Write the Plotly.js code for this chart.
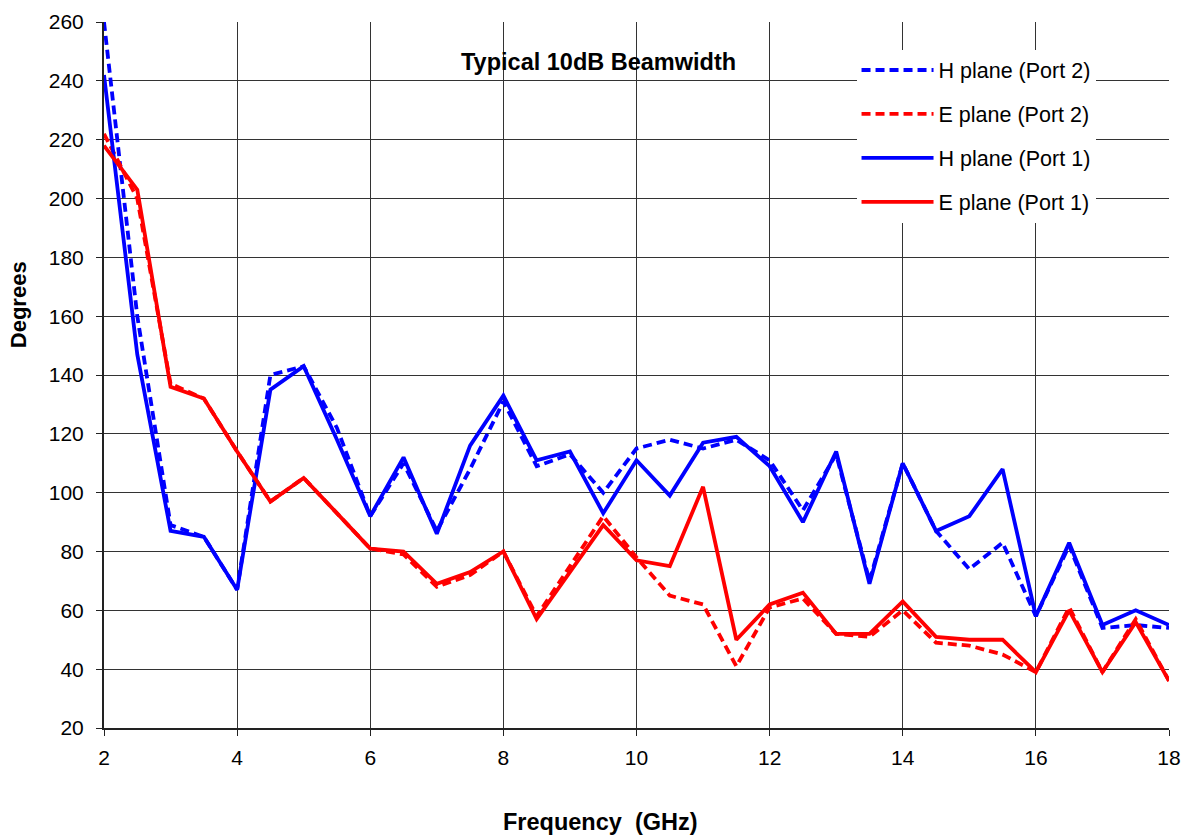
<!DOCTYPE html>
<html>
<head>
<meta charset="utf-8">
<script src="https://cdn.plot.ly/plotly-3.0.1.min.js"></script>
<style>
  html, body { margin: 0; padding: 0; background: #ffffff; }
  #chart { width: 1186px; height: 837px; }
</style>
</head>
<body>
<div id="chart"></div>
<script>
// Frequency points (GHz)
const freqGHz = [2, 2.5, 3, 3.5, 4, 4.5, 5, 5.5, 6, 6.5, 7, 7.5, 8, 8.5, 9, 9.5,
                 10, 10.5, 11, 11.5, 12, 12.5, 13, 13.5, 14, 14.5, 15, 15.5, 16, 16.5, 17, 17.5, 18];

// 10 dB beamwidth (degrees)
const hPlanePort2 = [260, 160, 89, 85, 67, 140, 143, 122, 92, 110, 87, 108, 131, 109, 113, 100,
                     115, 118, 115, 118, 111, 94, 113, 70, 110, 87, 74, 83, 58, 82, 54, 55, 54];
const ePlanePort2 = [222, 200, 137, 132, 114, 97, 105, 93, 81, 79, 68, 72, 80, 58, 75, 92,
                     78, 65, 62, 41, 61, 64, 52, 51, 60, 49, 48, 45, 39, 61, 39, 57, 36];
const hPlanePort1 = [242, 147, 87, 85, 67, 135, 143, 118, 92, 112, 86, 116, 133, 111, 114, 93,
                     111, 99, 117, 119, 109, 90, 114, 69, 110, 87, 92, 108, 58, 83, 55, 60, 55];
const ePlanePort1 = [218, 203, 136, 132, 114, 97, 105, 93, 81, 80, 69, 73, 80, 57, 73, 89,
                     77, 75, 102, 50, 62, 66, 52, 52, 63, 51, 50, 50, 39, 60, 39, 56, 36];

const seriesNames = ['H plane (Port 2)', 'E plane (Port 2)', 'H plane (Port 1)', 'E plane (Port 1)'];

const xTicks = [2, 4, 6, 8, 10, 12, 14, 16, 18];
const yTicks = [20, 40, 60, 80, 100, 120, 140, 160, 180, 200, 220, 240, 260];

const BLUE = '#0000ff';
const RED = '#ff0000';
const FONT = 'Liberation Sans, Arial, sans-serif';

function lineTrace(y, name, color, dashed, group) {
  return {
    x: freqGHz,
    y: y,
    name: name,
    type: 'scatter',
    mode: 'lines',
    legendgroup: group,
    line: { color: color, width: 3.8, dash: dashed ? '9px,5px' : 'solid' },
    hoverinfo: 'x+y+name'
  };
}

const data = [
  lineTrace(hPlanePort2, seriesNames[0], BLUE, true, 'g1'),
  lineTrace(ePlanePort2, seriesNames[1], RED, true, 'g2'),
  lineTrace(hPlanePort1, seriesNames[2], BLUE, false, 'g3'),
  lineTrace(ePlanePort1, seriesNames[3], RED, false, 'g4')
];

const gridColor = '#333333';

const layout = {
  width: 1186,
  height: 837,
  margin: { l: 104, r: 17, t: 22, b: 109 },
  paper_bgcolor: '#ffffff',
  plot_bgcolor: '#ffffff',
  font: { family: FONT, size: 21, color: '#000000' },
  showlegend: true,
  legend: {
    x: 0.7066, y: 0.961, xanchor: 'left', yanchor: 'top',
    bgcolor: '#ffffff', borderwidth: 0,
    font: { family: FONT, size: 21.5, color: '#000000' },
    tracegroupgap: 13,
    itemwidth: 72
  },
  xaxis: {
    range: [2, 18],
    tickvals: xTicks,
    ticktext: xTicks.map(String),
    showgrid: true, gridcolor: gridColor, gridwidth: 1,
    zeroline: false,
    showline: true, linecolor: '#222222', linewidth: 2,
    ticks: 'outside', ticklen: 6, tickcolor: '#222222',
    ticklabelstandoff: 4,
    tickfont: { family: FONT, size: 21, color: '#000000' }
  },
  yaxis: {
    range: [20, 260],
    tickvals: yTicks,
    ticktext: yTicks.map(String),
    showgrid: true, gridcolor: gridColor, gridwidth: 1,
    zeroline: false,
    showline: true, linecolor: '#222222', linewidth: 2,
    ticks: 'outside', ticklen: 6, tickcolor: '#222222',
    ticklabelstandoff: 8,
    tickfont: { family: FONT, size: 21, color: '#000000' }
  },
  annotations: [
    {
      text: '<b>Typical 10dB Beamwidth</b>',
      xref: 'paper', yref: 'paper', x: 0.464, y: 0.944,
      xanchor: 'center', yanchor: 'middle', showarrow: false,
      font: { family: FONT, size: 23.5, color: '#000000' }
    },
    {
      text: '<b>Degrees</b>',
      xref: 'paper', yref: 'paper', x: -0.08, y: 0.6,
      xanchor: 'center', yanchor: 'middle', showarrow: false, textangle: -90,
      font: { family: FONT, size: 22, color: '#000000' }
    },
    {
      text: '<b>Frequency  (GHz)</b>',
      xref: 'paper', yref: 'paper', x: 0.466, y: -0.133,
      xanchor: 'center', yanchor: 'middle', showarrow: false,
      font: { family: FONT, size: 23.5, color: '#000000' }
    }
  ]
};

Plotly.newPlot('chart', data, layout, { displayModeBar: false, staticPlot: true });
</script>
</body>
</html>
